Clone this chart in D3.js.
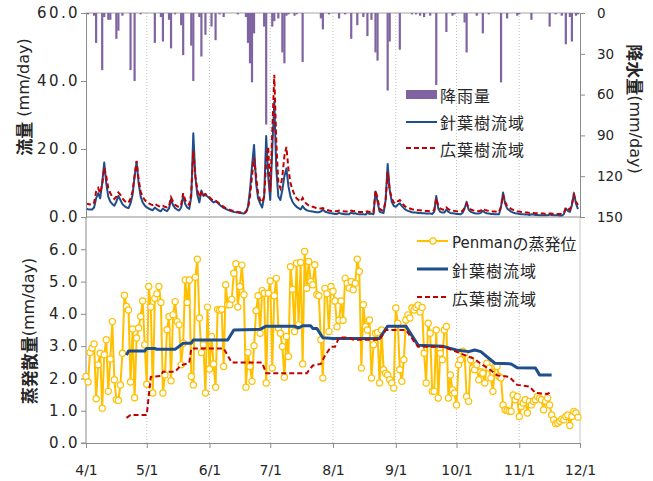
<!doctype html>
<html>
<head>
<meta charset="utf-8">
<script src="https://cdnjs.cloudflare.com/ajax/libs/d3/7.8.5/d3.min.js"></script>
<style>
  body { margin: 0; background: #fff; }
  svg text { font-family: "Noto Sans CJK JP", "Noto Sans", sans-serif; fill: #262626; }
  .axis path, .axis line { stroke: #8c8c8c; }
  .grid line { stroke: #c0c0c0; stroke-dasharray: 1,2; }
</style>
</head>
<body>
<script>
// daily rain (day index from 4/1, mm)
var rainDay = [1, 4, 5, 8, 9, 11, 12, 15, 16, 18, 22, 24, 27, 34, 37, 38, 41, 42, 44, 47, 48, 52, 53, 56, 57, 59, 62, 64, 66, 68,
  75, 79, 80, 81, 82, 83, 88, 89, 92, 93, 95, 97, 98, 99, 100, 103, 104, 107, 116, 117, 120, 125, 128, 131, 134, 137, 139, 141,
  143, 144, 149, 150, 155, 161, 163, 165, 167, 170, 173, 178, 181, 182, 187, 188, 193, 196, 199, 205, 208, 213, 214, 220, 229,
  232, 235, 237, 239, 240, 242, 243];
var rainMm = [1, 2, 22, 42, 3, 5, 5, 19, 13, 2, 42, 50, 1, 22, 3, 21, 5, 26, 1, 9, 31, 24, 50, 3, 32, 16, 10, 20, 1, 3,
  1, 3, 22, 37, 51, 15, 10, 82, 10, 6, 4, 29, 37, 2, 1, 2, 1, 36, 4, 12, 1, 4, 1, 19, 9, 3, 17, 5,
  29, 35, 57, 21, 27, 1, 1, 2, 3, 2, 53, 14, 2, 1, 7, 29, 2, 15, 1, 51, 4, 2, 1, 5, 10,
  1, 2, 23, 3, 21, 2, 1];

// daily runoff (mm/day), 4/1 .. 11/30
var flowConifer = [
  2.5, 2.3, 2.2, 2.2, 2.8, 5.5, 7.0, 5.5, 10, 16,
  10, 6, 4.5, 3.8, 3.3, 4.5, 6.2, 5, 3.8, 3.2,
  2.8, 2.6, 4.0, 6.5, 12, 16.2, 10, 6, 4.3, 3.4,
  2.8, 2.5, 2.2, 2.0, 2.8, 2.3, 1.9, 1.7, 2.5, 2.0,
  1.7, 2.5, 5.2, 3.5, 2.6, 2.2, 1.9, 2.8, 6.3, 3.8,
  2.8, 2.4, 6, 24.6, 12, 6.5, 4.3, 7.8, 6.2, 6.5,
  6.0, 5.5, 4.8, 4.3, 4.6, 4.2, 3.6, 3.1, 2.7, 2.4,
  2.1, 1.9, 1.7, 1.5, 1.4, 1.3, 1.2, 1.1, 1.0, 1.5,
  3, 8, 15, 21.2, 10, 5.5, 4, 2.8, 6, 23.8,
  12, 5, 20, 33.9, 14, 6, 5, 8, 12, 14.3,
  9, 6, 4.5, 3.6, 3.0, 2.6, 2.2, 3.2, 2.4, 2.0,
  1.8, 1.7, 1.6, 1.5, 1.4, 1.4, 1.6, 2.1, 1.6, 1.4,
  1.2, 1.1, 1.0, 0.9, 0.9, 1.2, 1.0, 0.9, 0.8, 0.8,
  0.8, 1.3, 1.0, 1.1, 0.9, 0.8, 0.8, 0.8, 0.7, 1.2,
  0.9, 1.0, 0.8, 7.5, 4.5, 1.6, 1.3, 1.2, 5, 15.6,
  8, 4.5, 3.3, 3.0, 3.6, 4.0, 3.2, 2.6, 2.1, 1.8,
  1.6, 1.4, 1.3, 1.3, 1.2, 1.2, 1.1, 1.1, 1.0, 1.0,
  1.0, 0.9, 1.5, 6.2, 2.5, 1.5, 1.3, 1.3, 2.2, 1.5,
  1.2, 1.1, 1.0, 0.9, 0.9, 0.8, 1.2, 2.5, 4.5, 2.1,
  1.5, 1.3, 1.1, 1.0, 1.0, 1.2, 1.8, 1.3, 1.1, 1.0,
  0.9, 0.9, 0.8, 0.8, 0.8, 3, 7.2, 4, 2.5, 2.0,
  1.6, 1.3, 1.1, 1.0, 0.9, 0.8, 0.8, 0.7, 0.7, 0.6,
  0.8, 0.7, 0.6, 0.6, 0.5, 0.5, 0.5, 0.5, 0.5, 0.7,
  0.6, 0.5, 0.5, 0.5, 0.4, 0.4, 0.8, 2.5, 1.8, 1.5,
  3.5, 7.0, 4.0, 2.3];
var flowBroad = [
  4.0, 3.8, 3.7, 3.6, 4.2, 7.5, 8.5, 7.0, 9.5, 14.5,
  12, 8.5, 7, 6, 5.3, 6, 7.2, 6.5, 5.5, 4.8,
  4.3, 4.2, 5.5, 7.5, 12, 16.5, 11, 7.5, 6, 5,
  4.4, 4.0, 3.7, 3.5, 3.9, 3.5, 3.2, 3.0, 3.3, 3.0,
  2.8, 3.2, 5.8, 4.5, 3.6, 3.2, 2.9, 3.6, 7.0, 5,
  4, 3.6, 7, 19.5, 12, 8, 5.8, 7.5, 6.5, 6.8,
  6.3, 5.8, 5.2, 4.8, 4.8, 4.4, 3.9, 3.4, 3.0, 2.6,
  2.3, 2.1, 1.9, 1.8, 1.6, 1.5, 1.4, 1.3, 1.2, 1.5,
  2.5, 6, 12, 17.4, 12, 7, 5, 4.3, 6, 16,
  20.7, 7.4, 25, 41.8, 22, 10, 8.5, 12, 18, 20.6,
  14, 10, 8, 6.5, 5.5, 5, 4.5, 5.6, 4.5, 3.8,
  3.4, 3.1, 3.0, 2.8, 2.6, 2.5, 2.5, 2.6, 2.3, 2.1,
  1.9, 1.8, 1.8, 1.7, 1.7, 1.9, 1.8, 1.7, 1.6, 1.6,
  1.5, 1.9, 1.7, 1.8, 1.6, 1.5, 1.5, 1.5, 1.4, 1.7,
  1.5, 1.6, 1.4, 7.8, 5.5, 2.4, 2.0, 1.9, 5, 13.3,
  8, 5.5, 4.3, 4.0, 4.6, 5.0, 4.2, 3.4, 3.0, 2.7,
  2.5, 2.3, 2.2, 2.1, 2.0, 2.0, 1.9, 1.9, 1.8, 1.8,
  1.7, 1.7, 2.0, 5.5, 3.2, 2.5, 2.2, 2.1, 2.8, 2.3,
  2.0, 1.9, 1.8, 1.7, 1.6, 1.6, 1.8, 2.6, 3.9, 2.6,
  2.2, 2.0, 1.9, 1.8, 1.7, 1.9, 2.5, 2.1, 1.9, 1.8,
  1.7, 1.6, 1.6, 1.5, 1.5, 3, 6.5, 4.5, 3.2, 2.8,
  2.4, 2.1, 1.9, 1.7, 1.6, 1.5, 1.4, 1.3, 1.3, 1.2,
  1.3, 1.2, 1.1, 1.1, 1.0, 1.0, 1.0, 0.9, 0.9, 1.0,
  1.0, 0.9, 0.9, 0.9, 0.9, 0.9, 1.1, 2.8, 2.4, 2.2,
  3.8, 6.5, 4.5, 3.5];

// daily Penman potential evaporation (mm/day)
var penman = [
  2.06, 1.89, 2.80, 2.94, 3.07, 1.37, 2.42, 2.78, 1.08, 2.73,
  3.20, 1.60, 2.60, 3.76, 1.96, 1.34, 1.32, 1.80, 2.78, 4.58,
  4.23, 4.12, 1.89, 3.53, 1.40, 3.25, 3.56, 3.92, 4.40, 3.04,
  1.82, 4.85, 4.21, 1.55, 4.48, 4.62, 4.85, 4.35, 1.55, 2.11,
  3.51, 3.92, 1.93, 3.97, 4.38, 3.76, 3.66, 2.42, 3.09, 5.05,
  4.35, 5.05, 2.06, 1.80, 5.13, 5.69, 3.87, 2.80, 3.04, 1.55,
  4.21, 2.29, 3.30, 2.45, 1.73, 4.14, 4.12, 4.14, 2.37, 4.90,
  4.28, 4.28, 4.45, 5.26, 5.55, 4.21, 4.85, 5.51, 4.59, 1.73,
  2.80, 2.37, 1.91, 3.01, 4.10, 4.56, 3.40, 4.72, 4.64, 1.86,
  4.64, 5.02, 2.32, 4.56, 5.10, 3.56, 3.40, 2.99, 2.04, 3.30,
  2.68, 5.46, 4.76, 3.45, 5.57, 3.66, 5.59, 2.45, 5.93, 4.79,
  5.62, 5.00, 4.90, 5.52, 4.59, 4.56, 3.20, 2.01, 4.79, 4.62,
  3.45,
  4.85, 4.70, 4.40, 3.60, 3.80, 4.40, 3.80, 5.10, 4.95, 4.80,
  5.00, 4.75, 4.95, 5.69, 5.31, 2.32, 4.28, 3.61, 3.50, 3.81,
  2.01, 3.04, 3.40, 3.42, 1.86, 3.50, 2.27, 2.16, 2.11, 1.96,
  1.86, 1.70, 4.18, 3.71, 2.27, 1.91, 2.58, 3.81, 3.97, 3.87,
  4.18, 4.12, 4.20, 4.27, 4.06, 4.20, 2.78, 1.86, 3.71, 3.40,
  1.60, 1.60, 3.50, 1.39, 2.78, 2.58, 3.50, 3.61, 1.39, 2.11,
  1.65, 1.55, 1.18, 2.42, 2.58, 2.84, 2.78, 1.44, 1.29, 2.58,
  2.32, 2.27, 2.42, 1.96, 2.21, 2.16, 1.86, 2.47, 2.32, 2.01,
  1.60, 2.37, 2.37, 2.06, 2.01, 1.18, 1.03, 1.01, 0.98, 0.98,
  1.49, 1.34, 1.44, 0.82, 1.13, 1.24, 1.34, 0.93, 1.29, 1.18,
  1.29, 1.34, 1.44, 1.39, 1.34, 1.03, 1.29, 1.39, 1.18, 0.87,
  0.72, 0.60, 0.62, 0.67, 0.74, 0.72, 0.82, 0.87, 0.54, 0.82,
  0.98, 0.93, 0.80];

// evapotranspiration of the two catchments (breakpoints: day index, mm/day)
var etConiferDay = [20, 21, 29, 30, 34, 35, 44, 48, 52, 53, 70, 73, 86, 89, 103, 105, 107, 111, 112, 114,
  117, 122, 145, 149, 158, 164, 176, 180, 183, 189, 192, 195, 200, 202, 210, 213, 222, 224, 230];
var etConifer = [2.72, 2.85, 2.85, 2.93, 2.93, 2.90, 2.90, 3.09, 3.09, 3.19, 3.19, 3.50, 3.52, 3.62, 3.62, 3.56, 3.63, 3.63, 3.55, 3.55,
  3.26, 3.24, 3.24, 3.62, 3.62, 3.03, 3.00, 2.93, 2.88, 2.83, 2.88, 2.83, 2.57, 2.47, 2.45, 2.33, 2.32, 2.11, 2.11];
var etBroadDay = [20, 22, 30, 32, 37, 38, 44, 47, 51, 52, 68, 72, 87, 89, 109, 112, 116, 118, 121, 123,
  125, 130, 132, 145, 148, 158, 164, 176, 181, 184, 188, 192, 195, 199, 203, 209, 213, 219, 222, 228, 230];
var etBroad = [0.78, 0.87, 0.87, 2.05, 2.08, 2.21, 2.21, 2.41, 2.48, 2.93, 2.93, 2.49, 2.49, 2.16, 2.16, 2.40, 2.45, 2.70, 2.98, 2.98,
  3.27, 3.27, 3.20, 3.20, 3.50, 3.50, 2.98, 2.98, 2.88, 2.80, 2.70, 2.60, 2.45, 2.30, 2.10, 2.05, 1.80, 1.75, 1.55, 1.52, 1.60];

var flowTicks = [0, 20, 40, 60];
var rainTicks = [0, 30, 60, 90, 120, 150];
var etTicks = [0, 1, 2, 3, 4, 5, 6];

var colRain = "#8064a2", colCon = "#1f4e8c", colBro = "#c00000", colPen = "#ffc000";
var numFont = "'DejaVu Sans', Verdana, sans-serif";

var svg = d3.select("body").append("svg").attr("width", 653).attr("height", 481);

var start = new Date(2010, 3, 1), end = new Date(2010, 11, 1);
function dayDate(i) { return d3.timeDay.offset(start, i); }

var x = d3.scaleTime().domain([start, end]).range([86, 580]);
var yFlow = d3.scaleLinear().domain([0, 60]).range([217, 13]);
var yRain = d3.scaleLinear().domain([0, 150]).range([13, 217]);
var yEt = d3.scaleLinear().domain([0, 7]).range([443, 217]);

var months = d3.timeMonth.range(d3.timeMonth.offset(start, 1), end);

// grid
var grid = svg.append("g").attr("class", "grid");
grid.selectAll("line.top").data(months).enter().append("line")
  .attr("x1", d => x(d)).attr("x2", d => x(d)).attr("y1", 13).attr("y2", 217);
grid.selectAll("line.bot").data(months).enter().append("line")
  .attr("x1", d => x(d)).attr("x2", d => x(d)).attr("y1", 217).attr("y2", 443);

// frame lines
svg.append("line").attr("x1", 86).attr("x2", 580).attr("y1", 13).attr("y2", 13).attr("stroke", "#a6a6a6");
svg.append("line").attr("x1", 580).attr("x2", 580).attr("y1", 217).attr("y2", 443).attr("stroke", "#c8c8c8");

// rain bars hanging from top
svg.append("g").selectAll("rect").data(rainDay).enter().append("rect")
  .attr("x", d => x(dayDate(d)) - 1.1)
  .attr("width", 2.2)
  .attr("y", yRain(0))
  .attr("height", (d, i) => yRain(rainMm[i]) - yRain(0))
  .attr("fill", colRain);

// runoff lines
var flowLine = d3.line().x((d, i) => x(dayDate(i))).y(d => yFlow(d));
svg.append("path").datum(flowConifer).attr("d", flowLine)
  .attr("fill", "none").attr("stroke", colCon).attr("stroke-width", 2).attr("stroke-linejoin", "round");
svg.append("path").datum(flowBroad).attr("d", flowLine)
  .attr("fill", "none").attr("stroke", colBro).attr("stroke-width", 2).attr("stroke-dasharray", "5,3");

// axes - top
var axL = svg.append("g").attr("class", "axis").attr("transform", "translate(86,0)")
  .call(d3.axisLeft(yFlow).tickValues(flowTicks).tickFormat(d3.format(".1f")).tickSize(5).tickPadding(1));
var axR = svg.append("g").attr("class", "axis").attr("transform", "translate(580,0)")
  .call(d3.axisRight(yRain).tickValues(rainTicks).tickSize(5).tickPadding(12));
svg.append("line").attr("x1", 86).attr("x2", 580).attr("y1", 217).attr("y2", 217).attr("stroke", "#8c8c8c");

// axes - bottom
var axE = svg.append("g").attr("class", "axis").attr("transform", "translate(86,0)")
  .call(d3.axisLeft(yEt).tickValues(etTicks).tickFormat(d3.format(".1f")).tickSize(5).tickPadding(1));
var axX = svg.append("g").attr("class", "axis").attr("transform", "translate(0,443)")
  .call(d3.axisBottom(x).tickValues(d3.timeMonth.range(start, d3.timeDay.offset(end, 1)))
    .tickFormat(d3.timeFormat("%-m/%-d")).tickSize(5).tickPadding(17));

svg.selectAll(".axis text").style("font-family", numFont).attr("fill", "#262626");
axL.selectAll("text").style("font-size", "15px").style("letter-spacing", "2.4px");
axE.selectAll("text").style("font-size", "15px").style("letter-spacing", "2.4px");
axR.selectAll("text").style("font-size", "13.5px");
axX.selectAll("text").style("font-size", "14px");
axE.select(".domain").attr("d", "M-5,443H0V217");

// Penman evaporation
var penLine = d3.line().x((d, i) => x(dayDate(i))).y(d => yEt(d));
svg.append("path").datum(penman).attr("d", penLine)
  .attr("fill", "none").attr("stroke", colPen).attr("stroke-width", 2);
svg.append("g").selectAll("circle").data(penman).enter().append("circle")
  .attr("cx", (d, i) => x(dayDate(i))).attr("cy", d => yEt(d)).attr("r", 3.1)
  .attr("fill", "#fff").attr("stroke", colPen).attr("stroke-width", 1.2);

// ET lines
var etLine = function (days) {
  return d3.line().x((d, i) => x(dayDate(days[i]))).y(d => yEt(d));
};
svg.append("path").datum(etConifer).attr("d", etLine(etConiferDay))
  .attr("fill", "none").attr("stroke", colCon).attr("stroke-width", 3).attr("stroke-linejoin", "round");
svg.append("path").datum(etBroad).attr("d", etLine(etBroadDay))
  .attr("fill", "none").attr("stroke", colBro).attr("stroke-width", 2).attr("stroke-dasharray", "5,3");

// axis titles
var t1 = svg.append("text").attr("transform", "translate(23,97) rotate(-90)")
  .attr("text-anchor", "middle").attr("dominant-baseline", "central").style("font-size", "17px");
t1.append("tspan").style("font-weight", "bold").text("流量");
t1.append("tspan").style("font-family", numFont).style("font-size", "16px").text(" (mm/day)");
var t2 = svg.append("text").attr("transform", "translate(28,331) rotate(-90)")
  .attr("text-anchor", "middle").attr("dominant-baseline", "central").style("font-size", "17px");
t2.append("tspan").style("font-weight", "bold").text("蒸発散量");
t2.append("tspan").style("font-family", numFont).style("font-size", "16px").text("(mm/day)");
var t3 = svg.append("text").attr("transform", "translate(636,109) rotate(90)")
  .attr("text-anchor", "middle").attr("dominant-baseline", "central").style("font-size", "17px");
t3.append("tspan").style("font-weight", "bold").text("降水量");
t3.append("tspan").style("font-family", numFont).style("font-size", "16px").text("(mm/day)");

// legend - top
var lg = svg.append("g").style("font-size", "16px").style("letter-spacing", "1px");
lg.append("rect").attr("x", 406).attr("y", 90).attr("width", 31).attr("height", 9).attr("fill", colRain);
lg.append("text").attr("x", 440).attr("y", 95).attr("dominant-baseline", "central").text("降雨量");
lg.append("line").attr("x1", 406).attr("x2", 437).attr("y1", 122).attr("y2", 122).attr("stroke", colCon).attr("stroke-width", 2);
lg.append("text").attr("x", 440).attr("y", 122).attr("dominant-baseline", "central").text("針葉樹流域");
lg.append("line").attr("x1", 406).attr("x2", 437).attr("y1", 148).attr("y2", 148).attr("stroke", colBro).attr("stroke-width", 2).attr("stroke-dasharray", "5,3");
lg.append("text").attr("x", 440).attr("y", 149).attr("dominant-baseline", "central").text("広葉樹流域");

// legend - bottom
var lb = svg.append("g").style("font-size", "16px");
lb.append("line").attr("x1", 417).attr("x2", 448).attr("y1", 241).attr("y2", 241).attr("stroke", colPen).attr("stroke-width", 2);
lb.append("circle").attr("cx", 433).attr("cy", 241).attr("r", 3.1).attr("fill", "#fff").attr("stroke", colPen).attr("stroke-width", 1.2);
var pt = lb.append("text").attr("x", 452).attr("y", 243).attr("dominant-baseline", "central");
pt.append("tspan").style("font-family", numFont).style("font-size", "15px").text("Penman");
pt.append("tspan").text("の蒸発位");
lb.append("line").attr("x1", 417).attr("x2", 448).attr("y1", 269).attr("y2", 269).attr("stroke", colCon).attr("stroke-width", 3);
lb.append("text").attr("x", 452).attr("y", 270).attr("dominant-baseline", "central").style("letter-spacing", "1px").text("針葉樹流域");
lb.append("line").attr("x1", 417).attr("x2", 448).attr("y1", 297).attr("y2", 297).attr("stroke", colBro).attr("stroke-width", 2).attr("stroke-dasharray", "5,3");
lb.append("text").attr("x", 452).attr("y", 298).attr("dominant-baseline", "central").style("letter-spacing", "1px").text("広葉樹流域");
</script>
</body>
</html>
